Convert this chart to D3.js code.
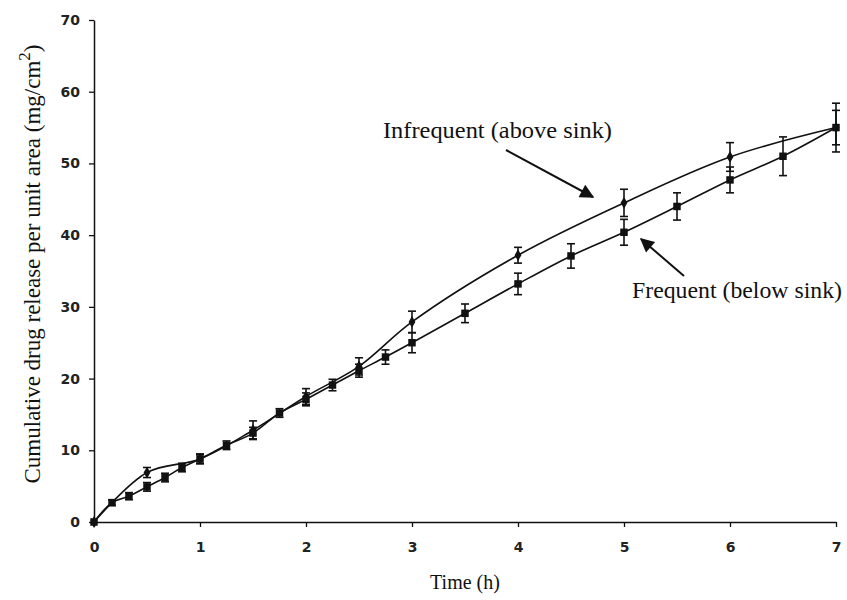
<!DOCTYPE html>
<html>
<head>
<meta charset="utf-8">
<script src="https://cdn.jsdelivr.net/npm/d3@7"></script>
<style>
  body { margin: 0; background: #fff; }
  .tick-label { font-family: "DejaVu Sans", Verdana, sans-serif; font-size: 14px; font-weight: bold; fill: #222; }
  .serif { font-family: "Liberation Serif", "Times New Roman", serif; fill: #111; }
</style>
</head>
<body>
<svg id="chart" width="847" height="600"></svg>
<script>
// Frequent sampling (below sink) - squares
const freqTime = [0, 0.17, 0.33, 0.5, 0.67, 0.83, 1, 1.25, 1.5, 1.75, 2, 2.25, 2.5, 2.75, 3, 3.5, 4, 4.5, 5, 5.5, 6, 6.5, 7];
const freqValue = [0, 2.7, 3.6, 4.9, 6.2, 7.6, 8.8, 10.7, 12.4, 15.2, 17.1, 19.1, 21.1, 23.0, 25.0, 29.1, 33.2, 37.1, 40.4, 44.0, 47.7, 51.0, 55.0];
const freqError = [0, 0.4, 0.5, 0.6, 0.6, 0.6, 0.7, 0.6, 0.8, 0.6, 0.9, 0.8, 0.9, 1.0, 1.4, 1.3, 1.5, 1.7, 1.8, 1.9, 1.8, 2.7, 2.4];

// Infrequent sampling (above sink) - diamonds
const infreqTime = [0, 0.5, 1, 1.5, 2, 2.5, 3, 4, 5, 6, 7];
const infreqValue = [0, 6.9, 8.8, 12.8, 17.5, 21.7, 27.9, 37.2, 44.5, 50.9, 55.0];
const infreqError = [0, 0.7, 0.6, 1.3, 1.1, 1.2, 1.5, 1.1, 1.9, 2.0, 3.4];

const xTicks = [0, 1, 2, 3, 4, 5, 6, 7];
const yTicks = [0, 10, 20, 30, 40, 50, 60, 70];

const svg = d3.select('#chart');
const plotLeft = 94, plotRight = 836, plotTop = 20, plotBottom = 522;

const xScale = d3.scaleLinear().domain([0, 7]).range([plotLeft, plotRight]);
const yScale = d3.scaleLinear().domain([0, 70]).range([plotBottom, plotTop]);

const freq = freqTime.map((t, i) => ({ t, v: freqValue[i], e: freqError[i] }));
const infreq = infreqTime.map((t, i) => ({ t, v: infreqValue[i], e: infreqError[i] }));

// axes
const xAxis = svg.append('g')
  .attr('transform', `translate(0, ${plotBottom})`)
  .call(d3.axisBottom(xScale).tickValues(xTicks).tickFormat(d3.format('d'))
    .tickSize(5).tickPadding(15).tickSizeOuter(0));
const yAxis = svg.append('g')
  .attr('transform', `translate(${plotLeft}, 0)`)
  .call(d3.axisLeft(yScale).tickValues(yTicks).tickFormat(d3.format('d'))
    .tickSize(5).tickPadding(9).tickSizeOuter(0));

[xAxis, yAxis].forEach(ax => {
  ax.attr('font-family', null).attr('font-size', null);
  ax.select('.domain').attr('stroke', '#111').attr('stroke-width', 1.5);
  ax.selectAll('.tick line').attr('stroke', '#111').attr('stroke-width', 1.3);
  ax.selectAll('.tick text').attr('class', 'tick-label');
});

const line = d3.line()
  .x(d => xScale(d.t))
  .y(d => yScale(d.v))
  .curve(d3.curveCatmullRom.alpha(0.5));

function drawSeries(data, marker) {
  const g = svg.append('g');
  g.append('path')
    .datum(data)
    .attr('fill', 'none')
    .attr('stroke', '#111')
    .attr('stroke-width', 1.6)
    .attr('d', line);

  const bars = g.selectAll('.err')
    .data(data.filter(d => d.e > 0))
    .enter()
    .append('g')
    .attr('stroke', '#111')
    .attr('stroke-width', 1.6);
  bars.append('line')
    .attr('x1', d => xScale(d.t)).attr('x2', d => xScale(d.t))
    .attr('y1', d => yScale(d.v + d.e)).attr('y2', d => yScale(d.v - d.e));
  bars.append('line')
    .attr('x1', d => xScale(d.t) - 4).attr('x2', d => xScale(d.t) + 4)
    .attr('y1', d => yScale(d.v + d.e)).attr('y2', d => yScale(d.v + d.e));
  bars.append('line')
    .attr('x1', d => xScale(d.t) - 4).attr('x2', d => xScale(d.t) + 4)
    .attr('y1', d => yScale(d.v - d.e)).attr('y2', d => yScale(d.v - d.e));

  g.selectAll('.pt')
    .data(data)
    .enter()
    .append('path')
    .attr('transform', d => `translate(${xScale(d.t)}, ${yScale(d.v)})`)
    .attr('d', d3.symbol().type(marker.type).size(marker.size))
    .attr('fill', '#111');
}

drawSeries(infreq, { type: d3.symbolDiamond, size: 40 });
drawSeries(freq, { type: d3.symbolSquare, size: 56 });

// arrows
svg.append('defs').append('marker')
  .attr('id', 'head')
  .attr('viewBox', '0 0 10 10')
  .attr('refX', 9).attr('refY', 5)
  .attr('markerWidth', 16).attr('markerHeight', 14)
  .attr('markerUnits', 'userSpaceOnUse')
  .attr('orient', 'auto')
  .append('path')
  .attr('d', 'M0,0 L10,5 L0,10 Z')
  .attr('fill', '#111');

svg.append('line')
  .attr('x1', 506).attr('y1', 150).attr('x2', 593).attr('y2', 197)
  .attr('stroke', '#111').attr('stroke-width', 2)
  .attr('marker-end', 'url(#head)');
svg.append('line')
  .attr('x1', 684).attr('y1', 276).attr('x2', 641).attr('y2', 239)
  .attr('stroke', '#111').attr('stroke-width', 2)
  .attr('marker-end', 'url(#head)');

// annotations
svg.append('text').attr('class', 'serif')
  .attr('x', 383).attr('y', 138).attr('font-size', 23)
  .attr('textLength', 229).attr('lengthAdjust', 'spacingAndGlyphs')
  .text('Infrequent (above sink)');
svg.append('text').attr('class', 'serif')
  .attr('x', 632).attr('y', 298).attr('font-size', 23)
  .attr('textLength', 210).attr('lengthAdjust', 'spacingAndGlyphs')
  .text('Frequent (below sink)');

// axis titles
svg.append('text').attr('class', 'serif')
  .attr('x', 465).attr('y', 589).attr('font-size', 20)
  .attr('text-anchor', 'middle')
  .text('Time (h)');

const yTitle = svg.append('text').attr('class', 'serif')
  .attr('transform', 'translate(40, 264) rotate(-90)')
  .attr('font-size', 23)
  .attr('text-anchor', 'middle');
yTitle.append('tspan').text('Cumulative drug release per unit area (mg/cm');
yTitle.append('tspan').attr('dy', -10).attr('font-size', 17).text('2');
yTitle.append('tspan').attr('dy', 10).text(')');
</script>
</body>
</html>
